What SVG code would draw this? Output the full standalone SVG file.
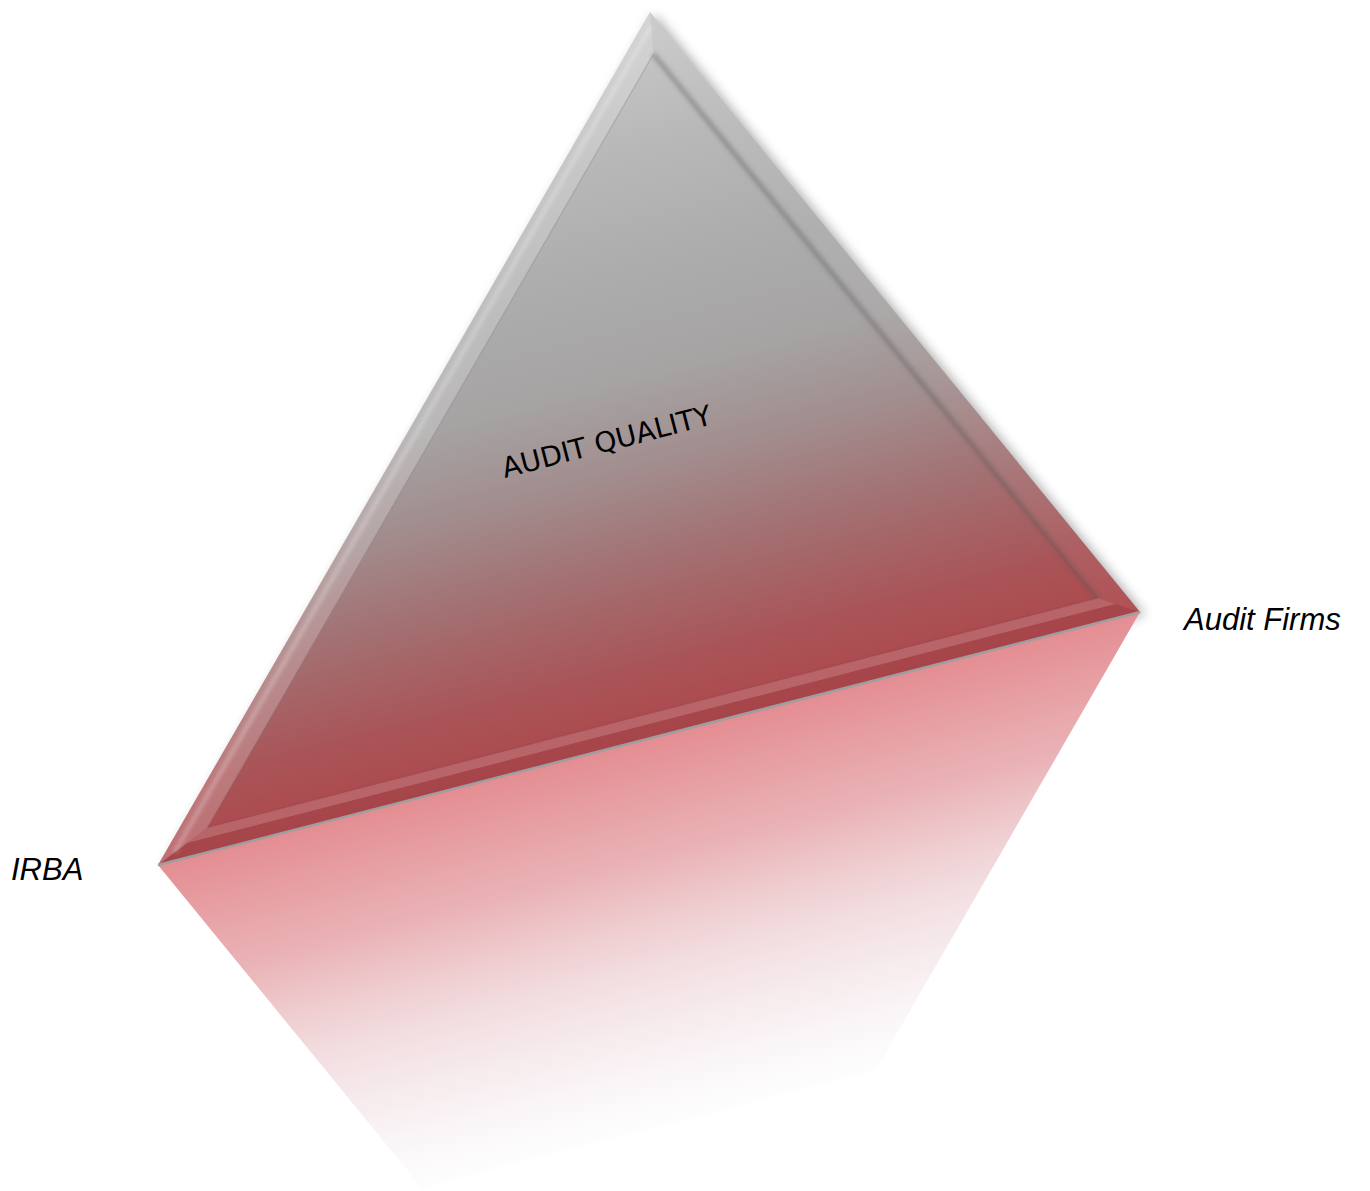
<svg xmlns="http://www.w3.org/2000/svg" width="1370" height="1191" viewBox="0 0 1370 1191">
  <defs>
    <linearGradient id="bodyGrad" gradientUnits="userSpaceOnUse" x1="649" y1="738.5" x2="473.6" y2="57.7">
      <stop offset="0" stop-color="#ad474c"/>
      <stop offset="0.1" stop-color="#a95457"/>
      <stop offset="0.25" stop-color="#a37173"/>
      <stop offset="0.38" stop-color="#a28e8f"/>
      <stop offset="0.5" stop-color="#a6a3a3"/>
      <stop offset="0.65" stop-color="#acacac"/>
      <stop offset="0.82" stop-color="#b8b8b8"/>
      <stop offset="1" stop-color="#c9c9c9"/>
    </linearGradient>
    <linearGradient id="reflGrad" gradientUnits="userSpaceOnUse" x1="649" y1="738.5" x2="748.8" y2="1125.9">
      <stop offset="0" stop-color="#e2878c" stop-opacity="0.95"/>
      <stop offset="0.3" stop-color="#e6a6aa" stop-opacity="0.85"/>
      <stop offset="0.55" stop-color="#ebc9cd" stop-opacity="0.65"/>
      <stop offset="0.75" stop-color="#efdce0" stop-opacity="0.45"/>
      <stop offset="0.9" stop-color="#f3ecef" stop-opacity="0.22"/>
      <stop offset="1" stop-color="#f8f4f6" stop-opacity="0.03"/>
    </linearGradient>
    <filter id="shadowBlur" x="-20%" y="-20%" width="140%" height="140%">
      <feGaussianBlur stdDeviation="6"/>
    </filter>
    <filter id="softBlur" x="-10%" y="-10%" width="120%" height="120%">
      <feGaussianBlur stdDeviation="2"/>
    </filter>
    <style>
      .label { font-family: "Liberation Sans", Arial, sans-serif; font-size: 31px; font-style: italic; fill: #000; }
      .title { font-family: "DejaVu Sans", "Liberation Sans", sans-serif; font-size: 28px; fill: #000; }
    </style>
  </defs>

  <rect width="1370" height="1191" fill="#ffffff"/>

  <g id="triangle-shadow">
    <polygon points="650,12 1140,612 158,865" fill="#000" opacity="0.33" transform="translate(5,3)" filter="url(#shadowBlur)"/>
  </g>

  <g id="reflection">
    <polygon points="158,865 1140,612 875.6,1070.5 421.4,1187.5" fill="#ffffff"/>
    <polygon points="158,865 1140,612 875.6,1070.5 421.4,1187.5" fill="url(#reflGrad)"/>
  </g>

  <g id="triangle">
    <polygon points="650,12 1140,612 158,865" fill="url(#bodyGrad)"/>
    <!-- left bevel band (lighter) -->
    <polygon points="650,12 158,865 207.3,827.5 653.4,54.1" fill="#ffffff" opacity="0.22"/>
    <line x1="651.1" y1="26" x2="174.4" y2="852.5" stroke="#ffffff" stroke-opacity="0.45" stroke-width="2.5" filter="url(#softBlur)"/>
    <line x1="653.4" y1="54.1" x2="207.3" y2="827.5" stroke="#7a7a7a" stroke-opacity="0.3" stroke-width="1.3"/>
    <!-- right bevel band -->
    <polygon points="650,12 1140,612 1097.7,598.1 653.4,54.1" fill="#ffffff" opacity="0.06"/>
    <line x1="653.4" y1="54.1" x2="1097.7" y2="598.1" stroke="#555555" stroke-opacity="0.4" stroke-width="5" filter="url(#softBlur)"/>
    <!-- bottom bevel band -->
    <polygon points="207.3,827.5 1097.7,598.1 1115.3,603.9 186.8,843.1" fill="#ffffff" opacity="0.15"/>
    <polygon points="186.8,843.1 1115.3,603.9 1140,612 158,865" fill="#000000" opacity="0.03"/>
    <line x1="207.3" y1="827.5" x2="1097.7" y2="598.1" stroke="#8a3a3e" stroke-opacity="0.25" stroke-width="1.5"/>
    <line x1="158" y1="865" x2="1140" y2="612" stroke="#9e9e9e" stroke-width="2.5"/>
  </g>

  <g id="connectors"/>

  <g id="label-audit-quality">
    <text class="title" text-anchor="middle" transform="translate(609,451) rotate(-14.5)">AUDIT QUALITY</text>
  </g>
  <g id="label-audit-firms">
    <text class="label" x="1184" y="630">Audit Firms</text>
  </g>
  <g id="label-irba">
    <text class="label" x="11" y="880">IRBA</text>
  </g>
</svg>
